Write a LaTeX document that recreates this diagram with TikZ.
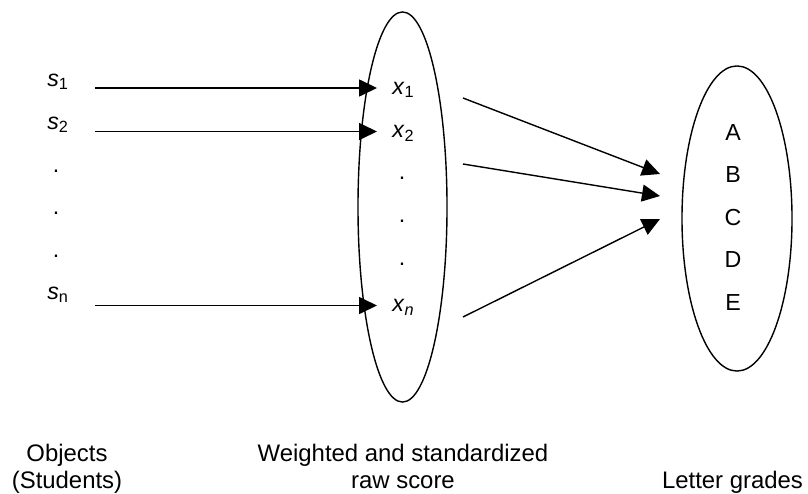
\documentclass[tikz,border=0pt]{standalone}
\usepackage{fontspec}
\setmainfont{Liberation Sans}
\usetikzlibrary{arrows.meta,positioning,shapes.geometric}

\begin{document}
\begin{tikzpicture}[x=0.025cm, y=-0.025cm,
  lbl/.style={anchor=base west, inner sep=0pt, font=\fontsize{16.5}{19.2}\selectfont},
  dotlbl/.style={anchor=base, inner sep=0pt, font=\fontsize{16.5}{19.2}\selectfont},
  caption/.style={align=center, anchor=base, inner sep=0pt, font=\fontsize{17}{19.2}\selectfont},
  set/.style={draw, ellipse, line width=1pt, inner sep=0pt},
  arr/.style={-{Triangle[length=0.45cm, width=0.425cm]}, line width=1.2pt},
  fan/.style={arr, line width=1pt}
]
  \useasboundingbox (0,0) rectangle (808,493);
  % the two sets
  \node[set, minimum width=2.225cm, minimum height=9.75cm] (scores) at (402.5,207) {};
  \node[set, minimum width=2.75cm, minimum height=7.625cm] (grades) at (737,218.5) {};
  % students
  \node[lbl] (s1) at (47,86) {\textit{s}\textsubscript{1}};
  \node[lbl] (s2) at (47,129) {\textit{s}\textsubscript{2}};
  \node[lbl] (sn) at (47,299) {\textit{s}\textsubscript{n}};
  \foreach \y [count=\i] in {172,214,257}
    \node[dotlbl] (sd\i) at (56,\y) {.};
  % scores
  \node[lbl] (x1) at (392,94) {\textit{x}\textsubscript{1}};
  \node[lbl] (x2) at (392,137.5) {\textit{x}\textsubscript{2}};
  \node[lbl] (xn) at (392,311.5) {\textit{x}\textsubscript{\textit{n}}};
  \foreach \y [count=\i] in {179,222,265}
    \node[dotlbl] (xd\i) at (402,\y) {.};
  % grades
  \foreach \g [count=\i from 0] in {A,B,C,D,E}
    \node[dotlbl] (g\g) at (733,{140+42.6*\i}) {\g};
  % captions
  \node[caption] (objects) at (67,488) {Objects\\(Students)};
  \node[caption] (raw) at (403,488) {Weighted and standardized\\raw score};
  \node[caption] (letters) at (732.5,488) {Letter grades};
  % mapping
  \draw[arr] ([shift={(26,2)}]s1.base east) -- ([shift={(-15,-6)}]x1.base west);
  \draw[arr] ([shift={(26,2.5)}]s2.base east) -- ([shift={(-15,-6)}]x2.base west);
  \draw[arr] ([shift={(26,6.5)}]sn.base east) -- ([shift={(-15,-6)}]xn.base west);
  \coordinate (f1) at (463,98);
  \coordinate (f2) at (463,164);
  \coordinate (fn) at (463,317);
  \coordinate (t1) at (660,174);
  \coordinate (t2) at (660,196);
  \coordinate (tn) at (660,219);
  \draw[fan] (f1) -- (t1);
  \draw[fan] (f2) -- (t2);
  \draw[fan] (fn) -- (tn);
\end{tikzpicture}
\end{document}
